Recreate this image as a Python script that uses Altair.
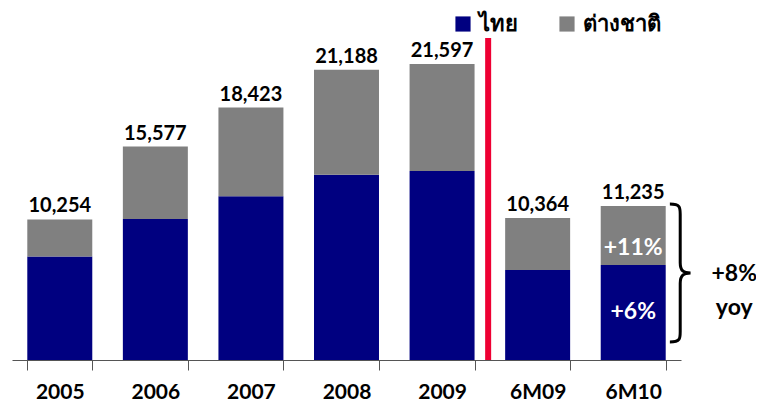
import altair as alt
import pandas as pd

categories = ["2005", "2006", "2007", "2008", "2009", "6M09", "6M10"]
thai = [7560, 10285, 11942, 13517, 13790, 6569, 6931]
foreign = [2694, 5292, 6481, 7671, 7807, 3795, 4304]
totals = [10254, 15577, 18423, 21188, 21597, 10364, 11235]
series = ["ไทย", "ต่างชาติ"]
colors = ["#000080", "#808080"]

FONT = "Lato, 'Noto Sans', 'DejaVu Sans', sans-serif"
W, H = 669, 322
YMAX = 23500

rows = []
for c, t, f in zip(categories, thai, foreign):
    rows.append({"cat": c, "series": series[0], "value": t, "ord": 0})
    rows.append({"cat": c, "series": series[1], "value": f, "ord": 1})
df = pd.DataFrame(rows)
tot = pd.DataFrame({"cat": categories, "total": totals})

xenc = alt.X(
    "cat:N",
    sort=categories,
    scale=alt.Scale(paddingInner=0.32, paddingOuter=0.16),
    axis=alt.Axis(
        title=None, labelAngle=0, tickBand="extent", tickSize=10,
        domainColor="#555555", tickColor="#555555",
        labelFont=FONT, labelFontSize=21, labelFontWeight="bold",
        labelColor="black", labelPadding=11, grid=False,
    ),
)
yscale = alt.Scale(domain=[0, YMAX], nice=False)

bars = alt.Chart(df).mark_bar().encode(
    x=xenc,
    y=alt.Y("value:Q", stack="zero", scale=yscale, axis=None),
    color=alt.Color(
        "series:N",
        scale=alt.Scale(domain=series, range=colors),
        legend=alt.Legend(
            title=None, orient="none", direction="horizontal",
            legendX=440, legendY=-25, symbolType="square", symbolSize=230,
            symbolStrokeWidth=0, labelFont=FONT, labelFontSize=22,
            labelFontWeight="bold", labelColor="black", columnPadding=38,
            labelOffset=5,
        ),
    ),
    order=alt.Order("ord:Q", sort="ascending"),
)

labels = alt.Chart(tot).mark_text(
    baseline="bottom", dy=-3, font=FONT, fontSize=20, fontWeight="bold", color="black"
).encode(
    x=alt.X("cat:N", sort=categories),
    y=alt.Y("total:Q", scale=yscale),
    text=alt.Text("total:Q", format=","),
)

divider = alt.Chart(pd.DataFrame({"cat": ["6M09"]})).mark_rule(
    color="#EE0033", strokeWidth=6, xOffset=-17
).encode(
    x=alt.X("cat:N", sort=categories, bandPosition=0),
    y=alt.value(0),
    y2=alt.value(H),
)

inner = pd.DataFrame({"cat": ["6M10", "6M10"], "y": [8180, 3500], "label": ["+11%", "+6%"]})
inner_txt = alt.Chart(inner).mark_text(
    font=FONT, fontSize=23, fontWeight="bold", color="white", baseline="middle"
).encode(
    x=alt.X("cat:N", sort=categories),
    y=alt.Y("y:Q", scale=yscale),
    text="label:N",
)

outer = pd.DataFrame({"cat": ["6M10", "6M10"], "y": [6250, 3800], "label": ["+8%", "yoy"]})
outer_txt = alt.Chart(outer).mark_text(
    font=FONT, fontSize=23, fontWeight="bold", color="black", baseline="middle", xOffset=101
).encode(
    x=alt.X("cat:N", sort=categories),
    y=alt.Y("y:Q", scale=yscale),
    text="label:N",
)

BRACE = ("M -0.15 -1 C 0 -1 0 -0.95 0 -0.85 L 0 -0.15 C 0 -0.03 0.05 0 0.15 0 "
         "C 0.05 0 0 0.03 0 0.15 L 0 0.85 C 0 0.95 0 1 -0.15 1")
brace = alt.Chart(pd.DataFrame({"cat": ["6M10"], "y": [6350]})).mark_point(
    shape=BRACE, size=19044, filled=False, stroke="black", strokeWidth=3,
    opacity=1, xOffset=47
).encode(
    x=alt.X("cat:N", sort=categories),
    y=alt.Y("y:Q", scale=yscale),
)

chart = alt.layer(bars, divider, labels, inner_txt, outer_txt, brace).properties(
    width=W, height=H,
    autosize=alt.AutoSizeParams(type="none"),
    padding={"left": 4, "top": 30, "right": 75, "bottom": 46},
    background="white",
).configure_view(stroke=None)

chart.save("out.html", embed_options={"renderer": "svg", "actions": False})
